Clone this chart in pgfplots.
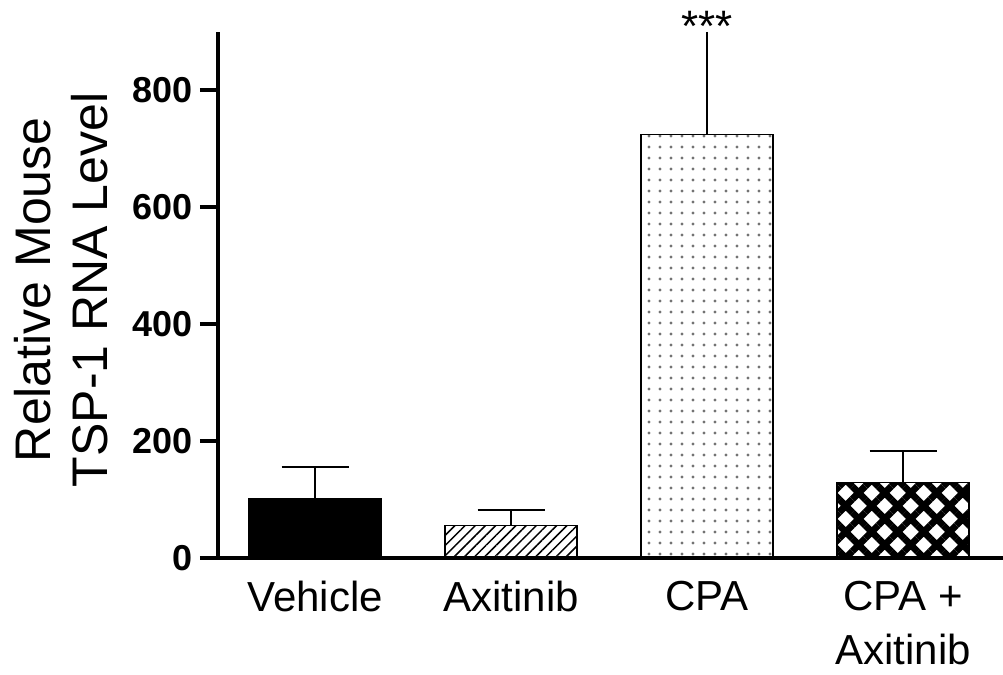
\documentclass[border=0pt]{standalone}
\usepackage{fontspec}
\setmainfont{Liberation Sans}
\usepackage{pgfplots}
\pgfplotsset{compat=1.18}
\usetikzlibrary{patterns.meta}

\begin{document}
\begin{tikzpicture}
\begin{axis}[
  at={(0,0)}, anchor=south west,
  scale only axis, width=392.5pt, height=263pt,
  xmin=-0.495, xmax=3.51, ymin=0, ymax=900,
  axis x line=bottom, axis y line=left,
  axis line style={-, line width=2pt},
  xtick={0,1,2,3},
  xticklabels={Vehicle, Axitinib, CPA, {CPA +\\Axitinib}},
  x tick style={draw=none},
  ytick={0,200,400,600,800},
  y tick style={line width=2pt, black},
  tick align=outside, major tick length=9pt,
  xticklabel style={align=center, font=\fontsize{21}{27}\selectfont, anchor=north, yshift=1pt},
  yticklabel style={font=\fontsize{18}{18}\selectfont\bfseries},
  /pgf/number format/assume math mode=true,
  ylabel={Relative Mouse\\TSP-1 RNA Level},
  ylabel style={align=center, font=\fontsize{25}{28.5}\selectfont, at={(axis description cs:-0.14,0.51)}, anchor=south, inner sep=0pt},
  clip=false,
  error bars/y dir=plus, error bars/y explicit,
  error bars/error bar style={line width=1pt, black},
  error bars/error mark options={rotate=90, mark size=16.75pt, line width=1pt, black},
]
\addplot[ybar, bar width=66pt, bar shift=0pt, fill=black, draw=black, line width=0.75pt]
  coordinates {(0,101) +- (0,55)};
\addplot[ybar, bar width=66pt, bar shift=0pt, draw=black, line width=0.75pt,
  pattern={Lines[angle=45, distance=3.6pt, line width=0.75pt]}, pattern color=black]
  coordinates {(1,56) +- (0,26)};
\addplot[ybar, bar width=66pt, bar shift=0pt, draw=black, line width=0.75pt,
  pattern={Dots[distance=5.5pt, radius=0.8pt]}, pattern color=black!55,
  error bars/error mark=none]
  coordinates {(2,725) +- (0,175)};
\addplot[ybar, bar width=66pt, bar shift=0pt, draw=black, line width=0.75pt,
  pattern={Hatch[angle=45, distance=9.2pt, line width=3.4pt]}, pattern color=black]
  coordinates {(3,129) +- (0,54)};
\node[anchor=base, font=\fontsize{22}{22}\selectfont, yshift=-4.75pt] at (axis cs:2,900) {***};
\end{axis}
\pgfresetboundingbox
\path (-109pt,-58.5pt) rectangle (392.5pt,279pt);
\end{tikzpicture}
\end{document}
